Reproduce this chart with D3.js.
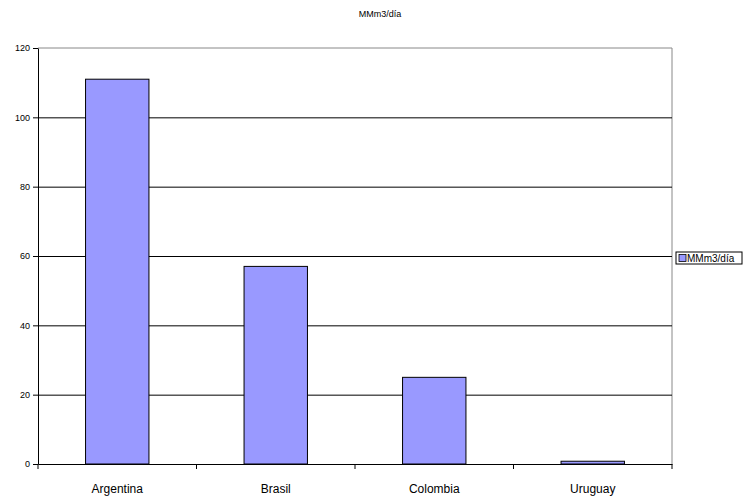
<!DOCTYPE html>
<html>
<head>
<meta charset="utf-8">
<script src="https://cdn.jsdelivr.net/npm/d3@7"></script>
<style>
    body { margin: 0; background: #fff; }
    text { font-family: Arial, "Liberation Sans", sans-serif; }
</style>
</head>
<body>
<div id="chart"></div>
<script>
const countries = ["Argentina", "Brasil", "Colombia", "Uruguay"];
const values = [111, 57, 25, 0.8];
const yTicks = [0, 20, 40, 60, 80, 100, 120];
const seriesName = "MMm3/día";

const margin = {top: 48, right: 78, bottom: 36, left: 38};
const width = 750 - margin.left - margin.right;
const height = 500 - margin.top - margin.bottom;

const root = d3.select("#chart")
    .append("svg")
    .attr("width", 750)
    .attr("height", 500);

root.append("text")
    .attr("x", 380)
    .attr("y", 17)
    .attr("text-anchor", "middle")
    .style("font-size", "9px")
    .text(seriesName);

const svg = root.append("g")
    .attr("transform", `translate(${margin.left}, ${margin.top})`);

const x = d3.scaleBand()
    .domain(countries)
    .range([0, width])
    .padding(0);

const y = d3.scaleLinear()
    .domain([0, 120])
    .range([height, 0]);

// plot frame (gray top/right)
svg.append("path")
    .attr("d", `M0,0H${width}V${height}`)
    .style("fill", "none")
    .style("stroke", "#888")
    .style("stroke-width", 1);

// gridlines
svg.selectAll(".grid")
    .data(yTicks.filter(t => t > 0 && t < 120))
    .enter().append("line")
    .attr("class", "grid")
    .attr("x1", 0)
    .attr("x2", width)
    .attr("y1", d => y(d) + 0.5)
    .attr("y2", d => y(d) + 0.5)
    .style("stroke", "#000")
    .style("stroke-width", 1);

// bars
const data = countries.map((c, i) => ({country: c, value: values[i]}));
svg.selectAll(".bar")
    .data(data)
    .enter().append("rect")
    .attr("class", "bar")
    .attr("x", d => x(d.country) + x.bandwidth() * 0.3)
    .attr("width", x.bandwidth() * 0.4)
    .attr("y", d => y(d.value))
    .attr("height", d => height - y(d.value))
    .style("fill", "#9999FF")
    .style("stroke", "#000")
    .style("stroke-width", 1);

// y axis
const yAxis = svg.append("g")
    .attr("class", "y-axis")
    .call(d3.axisLeft(y).tickValues(yTicks).tickSize(5).tickSizeOuter(0).tickPadding(3));
yAxis.select(".domain").style("stroke", "#000");
yAxis.selectAll("line").style("stroke", "#000");
yAxis.selectAll("text").style("font-size", "9px").style("fill", "#000");

// x axis
const xAxis = svg.append("g")
    .attr("class", "x-axis")
    .attr("transform", `translate(0, ${height})`)
    .call(d3.axisBottom(x).tickSize(0).tickPadding(20));
xAxis.select(".domain").style("stroke", "#000");
xAxis.selectAll("text").style("font-size", "12px").style("fill", "#000");

// x tick marks at category boundaries
const bounds = countries.map(c => x(c)).concat([width]);
svg.selectAll(".xtick")
    .data(bounds)
    .enter().append("line")
    .attr("class", "xtick")
    .attr("x1", d => d)
    .attr("x2", d => d)
    .attr("y1", height)
    .attr("y2", height + 5)
    .style("stroke", "#000");

// legend
const legend = root.append("g")
    .attr("transform", "translate(676, 252)");
legend.append("rect")
    .attr("width", 66)
    .attr("height", 12)
    .style("fill", "#fff")
    .style("stroke", "#000")
    .style("stroke-width", 1);
legend.append("rect")
    .attr("x", 3)
    .attr("y", 2.5)
    .attr("width", 7)
    .attr("height", 7)
    .style("fill", "#9999FF")
    .style("stroke", "#000")
    .style("stroke-width", 0.8);
legend.append("text")
    .attr("x", 11)
    .attr("y", 9.5)
    .style("font-size", "10px")
    .text(seriesName);
</script>
</body>
</html>
